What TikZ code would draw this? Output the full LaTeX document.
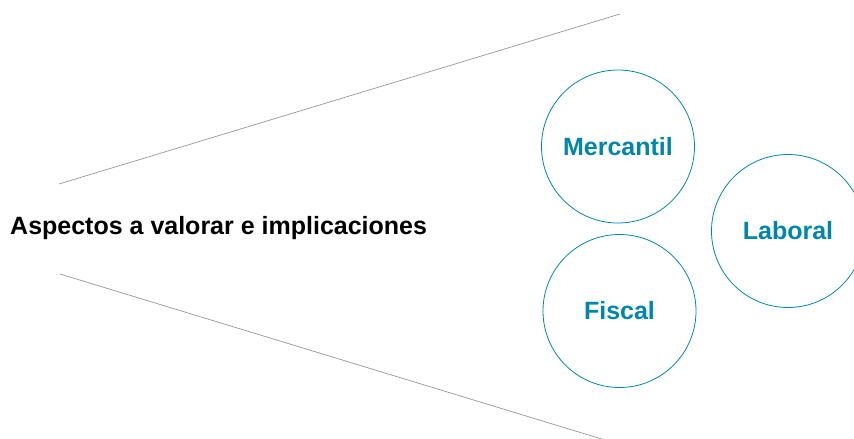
\documentclass[tikz,border=0pt]{standalone}
\usepackage{fontspec}
\setmainfont{Liberation Sans}
\usetikzlibrary{calc}
\definecolor{azul}{RGB}{0,134,172}
\definecolor{gris}{RGB}{150,150,150}
\tikzset{
  area/.style={circle,draw=azul,line width=0.8pt,minimum size=153pt,inner sep=0pt,
    text=azul,font=\fontsize{25}{30}\selectfont\bfseries},
  rayo/.style={draw=gris,line width=0.7pt}
}

\begin{document}
\begin{tikzpicture}[x=1pt,y=-1pt]

\useasboundingbox (0,0) rectangle (854,439);
\clip (0,0) rectangle (854,439);

\node[anchor=base west,inner sep=0pt,font=\fontsize{25}{30}\selectfont\bfseries] (tema) at (10,234) {Aspectos a valorar e implicaciones};

\coordinate (a1) at (59,184);
\coordinate (a2) at (620,14);
\coordinate (b1) at (60,274);
\coordinate (b2) at (620,444.6);
\draw[rayo] (a1)--(a2);
\draw[rayo] (b1)--(b2);

\node[area] (mercantil) at (618,146.5) {Mercantil};
\node[area] (fiscal) at (619.5,311) {Fiscal};
\node[area] (laboral) at (788,231) {Laboral};

\end{tikzpicture}
\end{document}
